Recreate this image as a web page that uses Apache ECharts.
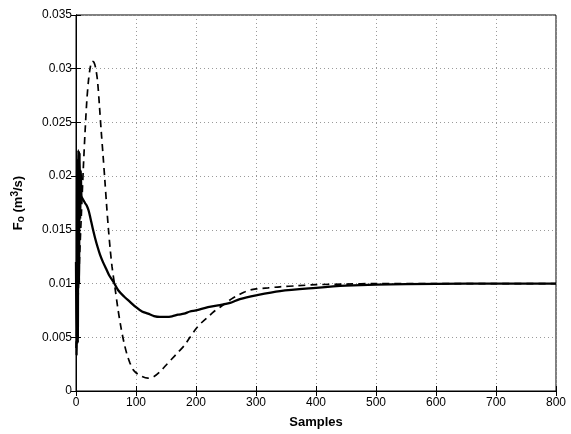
<!DOCTYPE html>
<html>
<head>
<meta charset="utf-8">
<script src="https://cdn.jsdelivr.net/npm/echarts@6/dist/echarts.min.js"></script>
<style>
html,body{margin:0;padding:0;background:#fff;}
#main{width:571px;height:434px;}
</style>
</head>
<body>
<div id="main"></div>
<script>
// Solid curve (samples, value)
const solidX = [0,1,2,3,4,5,6,7,8,9,10,12,15,18,21,24,28,32,36,40,45,50,55,62,70,80,90,100,110,120,130,140,150,160,170,180,190,200,220,240,257,273,300,340,400,450,500,600,700,800];
const solidY = [0.012,0.0033,0.0215,0.0045,0.0224,0.010,0.0222,0.016,0.0205,0.0182,0.0180,0.0178,0.0175,0.01725,0.0168,0.0161,0.0151,0.0142,0.0134,0.0127,0.0120,0.0114,0.0108,0.0102,0.0094,0.0088,0.0083,0.0078,0.0074,0.0072,0.00698,0.0069,0.0069,0.00695,0.0071,0.0072,0.0074,0.0075,0.0078,0.0080,0.0082,0.00855,0.0089,0.0093,0.0096,0.0098,0.0099,0.00997,0.0100,0.0100];
// Dashed curve (samples, value)
const dashX = [0,3,6,9,12,15,18,21,24,27,30,33,36,39,42,45,48,51,54,57,60,65,70,75,80,85,90,95,100,110,120,130,140,150,160,170,180,190,200,210,220,230,240,250,260,270,280,290,300,320,340,370,400,450,500,600,700,800];
const dashY = [0.004,0.008,0.0125,0.0165,0.0205,0.024,0.027,0.0290,0.0302,0.0307,0.0306,0.0300,0.0288,0.0266,0.0242,0.0220,0.0197,0.0173,0.0151,0.0132,0.0116,0.0096,0.0076,0.0059,0.0045,0.0034,0.0026,0.0020,0.0017,0.00135,0.0012,0.00135,0.0018,0.0024,0.0030,0.0036,0.0042,0.0050,0.0058,0.0064,0.0069,0.0074,0.0078,0.0082,0.0086,0.0089,0.0092,0.0094,0.0095,0.0096,0.0097,0.0098,0.0099,0.00995,0.0100,0.0100,0.0100,0.0100];
const xTicks = {min:0, max:800, interval:100};
const yTicks = {min:0, max:0.035, interval:0.005};

const solid = solidX.map((x,i)=>[x, solidY[i]]);
const dashed = dashX.map((x,i)=>[x, dashY[i]]);

const font = 'Liberation Sans, Arial, Helvetica, sans-serif';
const chart = echarts.init(document.getElementById('main'));
const gridLine = {show:true, lineStyle:{color:'#9a9a9a', width:1, type:[1,3]}};
chart.setOption({
  animation:false,
  grid:{left:76, top:15, width:480, height:377, show:true, borderColor:'#000', borderWidth:1, backgroundColor:'transparent'},
  xAxis:[{
    type:'value', min:xTicks.min, max:xTicks.max, interval:xTicks.interval,
    position:'bottom',
    axisLine:{show:true, lineStyle:{color:'#000', width:1}},
    axisTick:{show:true, inside:true, length:5, lineStyle:{color:'#000'}},
    axisLabel:{color:'#000', fontFamily:font, fontSize:12, margin:6},
    splitLine:gridLine,
    name:'Samples', nameLocation:'middle', nameGap:25,
    nameTextStyle:{color:'#000', fontFamily:font, fontSize:13, fontWeight:'bold'}
  },{
    type:'value', min:xTicks.min, max:xTicks.max, interval:xTicks.interval,
    position:'top',
    axisLine:{show:true, lineStyle:{color:'#000'}},
    axisTick:{show:true, inside:true, length:5, lineStyle:{color:'#000'}},
    axisLabel:{show:false}, splitLine:{show:false}
  }],
  yAxis:[{
    type:'value', min:yTicks.min, max:yTicks.max, interval:yTicks.interval,
    position:'left',
    axisLine:{show:true, lineStyle:{color:'#000', width:1}},
    axisTick:{show:true, inside:true, length:5, lineStyle:{color:'#000'}},
    axisLabel:{color:'#000', fontFamily:font, fontSize:12, margin:4,
      formatter:v=>String(+v.toFixed(3))},
    splitLine:gridLine,
    name:'{b|F}{sub|o}{b| (m}{sup|3}{b|/s)}', nameLocation:'middle', nameGap:50, nameRotate:90,
    nameTextStyle:{color:'#000', fontFamily:font, fontSize:13, fontWeight:'bold',
      rich:{
        b:{fontFamily:font, fontSize:13, fontWeight:'bold', color:'#000'},
        sub:{fontFamily:font, fontSize:10, fontWeight:'bold', color:'#000', verticalAlign:'bottom', padding:[6,0,0,0]},
        sup:{fontFamily:font, fontSize:10, fontWeight:'bold', color:'#000', verticalAlign:'top', padding:[0,0,6,0]}
      }}
  },{
    type:'value', min:yTicks.min, max:yTicks.max, interval:yTicks.interval,
    position:'right',
    axisLine:{show:true, lineStyle:{color:'#000'}},
    axisTick:{show:true, inside:true, length:5, lineStyle:{color:'#000'}},
    axisLabel:{show:false}, splitLine:{show:false}
  }],
  series:[{
    type:'line', data:dashed, showSymbol:false, smooth:0.3,
    lineStyle:{color:'#000', width:1.7, type:[7,5]}
  },{
    type:'line', data:solid, showSymbol:false, smooth:0.3,
    lineStyle:{color:'#000', width:2.3, join:'round'}
  }]
});
</script>
</body>
</html>
